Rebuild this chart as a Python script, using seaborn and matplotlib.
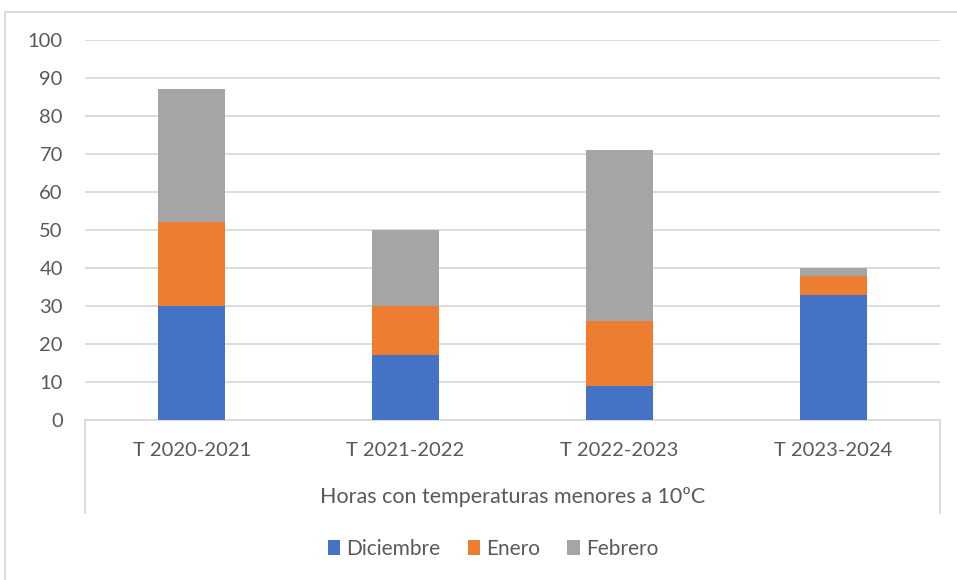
import numpy as np
import pandas as pd
import matplotlib
matplotlib.use("Agg")
import matplotlib.pyplot as plt
from matplotlib.lines import Line2D
from matplotlib.patches import Rectangle, Patch
import seaborn as sns

temporadas = ["T 2020-2021", "T 2021-2022", "T 2022-2023", "T 2023-2024"]
diciembre = [30, 17, 9, 33]
enero = [22, 13, 17, 5]
febrero = [35, 20, 45, 2]
meses = ["Diciembre", "Enero", "Febrero"]
colores = ["#4472C4", "#ED7D31", "#A5A5A5"]
titulo_eje = "Horas con temperaturas menores a 10ºC"

sns.set_theme(style="white")
plt.rcParams["font.family"] = ["Lato", "DejaVu Sans"]
texto = "#595959"
grid_col = "#D9D9D9"
fs = 14.5

W, H = 957, 580
fig = plt.figure(figsize=(W / 100, H / 100), dpi=100)
ax = fig.add_axes([85 / W, (H - 420) / H, (940 - 85) / W, (420 - 40) / H])

df = pd.DataFrame({"temporada": temporadas, "Diciembre": diciembre,
                   "Enero": enero, "Febrero": febrero})
acum = df[meses].cumsum(axis=1)

# stacked bars: draw the tallest cumulative layer first, then overlay
for mes, color in reversed(list(zip(meses, colores))):
    sns.barplot(data=acum.assign(temporada=df["temporada"]), x="temporada", y=mes,
                color=color, width=0.313, linewidth=0, saturation=1, ax=ax, zorder=3)

ax.set_ylim(0, 100)
ax.set_xlim(-0.5, 3.5)
ax.set_yticks(range(0, 101, 10))
ax.yaxis.grid(True, color=grid_col, linewidth=1.3, zorder=0)
ax.set_axisbelow(True)
for s in ["top", "right", "left"]:
    ax.spines[s].set_visible(False)
ax.spines["bottom"].set_color(grid_col)
ax.spines["bottom"].set_linewidth(1.3)
ax.tick_params(axis="both", length=0, labelsize=fs, labelcolor=texto)
ax.tick_params(axis="y", pad=16)
ax.tick_params(axis="x", pad=16)
ax.set_xlabel("")
ax.set_ylabel("")

# category group label with separators
dy = 1 / 380
ax.text(0.5, -77 * dy, titulo_eje, transform=ax.transAxes, ha="center", va="center",
        fontsize=15.5, color=texto)
for xx in (0, 1):
    ax.add_line(Line2D([xx, xx], [0, -93 * dy], transform=ax.transAxes, color=grid_col,
                       linewidth=1.3, clip_on=False))

# legend
handles = [Patch(facecolor=c, edgecolor="none") for c in colores]
fig.legend(handles, meses, loc="center", bbox_to_anchor=(493 / W, 1 - 549 / H), ncol=3,
           frameon=False, fontsize=15, labelcolor=texto, handlelength=0.6, handleheight=0.7,
           handletextpad=0.3, columnspacing=1.3)

# chart area border
fig.patches.append(Rectangle((5 / W, -0.1), 1.2, 1.1 - 12 / H, transform=fig.transFigure,
                             fill=False, edgecolor=grid_col, linewidth=1.3))

fig.savefig("out.png", dpi=100, facecolor="white")
